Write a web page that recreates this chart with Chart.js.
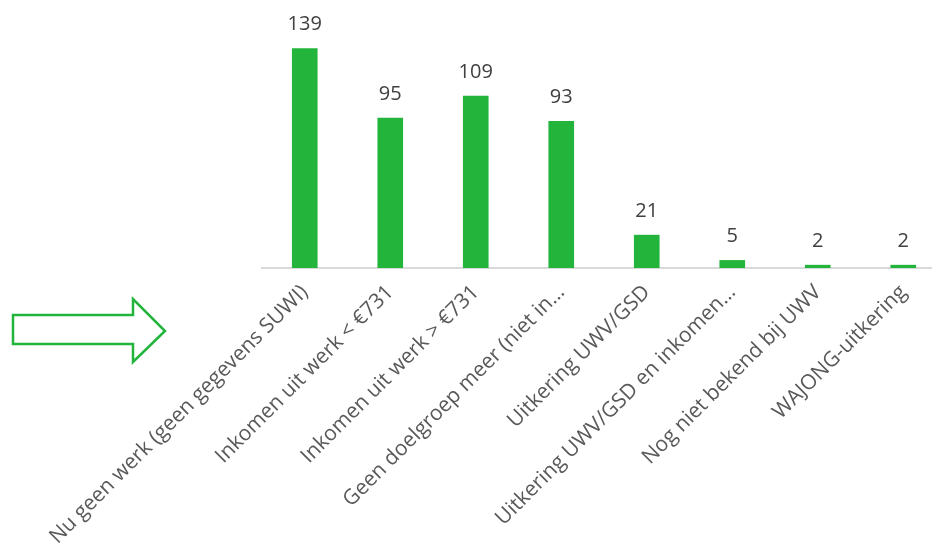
<!DOCTYPE html>
<html>
<head>
<meta charset="utf-8">
<script src="https://cdn.jsdelivr.net/npm/chart.js@4.4.1/dist/chart.umd.min.js"></script>
<style>
  html, body { margin: 0; padding: 0; background: #fff; overflow: hidden; }
  #wrap { position: absolute; left: 0; top: 0; width: 946px; height: 550px; }
</style>
</head>
<body>
<div id="wrap"><canvas id="barChart"></canvas></div>
<script>
// Categories (Excel truncated the two long ones with an ellipsis)
const categories = [
    'Nu geen werk (geen gegevens SUWI)',
    'Inkomen uit werk < €731',
    'Inkomen uit werk > €731',
    'Geen doelgroep meer (niet in…',
    'Uitkering UWV/GSD',
    'Uitkering UWV/GSD en inkomen…',
    'Nog niet bekend bij UWV',
    'WAJONG-uitkering'
];
const counts = [139, 95, 109, 93, 21, 5, 2, 2];

const green = '#22B43B';

// value labels above the bars
const valueLabels = {
    id: 'valueLabels',
    afterDatasetsDraw(chart) {
        const c = chart.ctx;
        const meta = chart.getDatasetMeta(0);
        c.save();
        c.font = '20px "Open Sans"';
        c.fillStyle = '#404040';
        c.textAlign = 'center';
        c.textBaseline = 'alphabetic';
        meta.data.forEach((bar, i) => {
            c.fillText(String(counts[i]), bar.x, bar.y - 18);
        });
        c.restore();
    }
};

// the outlined arrow on the left of the slide
const arrowShape = {
    id: 'arrowShape',
    afterDraw(chart) {
        const c = chart.ctx;
        c.save();
        c.strokeStyle = green;
        c.lineWidth = 2.5;
        c.lineJoin = 'miter';
        c.beginPath();
        c.moveTo(13, 315);
        c.lineTo(133, 315);
        c.lineTo(133, 299);
        c.lineTo(165, 331);
        c.lineTo(133, 362);
        c.lineTo(133, 344);
        c.lineTo(13, 344);
        c.closePath();
        c.stroke();
        c.restore();
    }
};

const ctx = document.getElementById('barChart').getContext('2d');
const barChart = new Chart(ctx, {
    type: 'bar',
    data: {
        labels: categories,
        datasets: [{
            data: counts,
            backgroundColor: green,
            borderWidth: 0,
            barPercentage: 0.3,
            categoryPercentage: 1.0
        }]
    },
    options: {
        responsive: true,
        maintainAspectRatio: false,
        animation: false,
        layout: {
            padding: { left: 262, top: 15, right: 0, bottom: 0 }
        },
        plugins: {
            legend: { display: false },
            tooltip: { enabled: false }
        },
        scales: {
            y: {
                display: false,
                min: 0,
                max: 160
            },
            x: {
                grid: { display: false, drawTicks: false },
                border: { color: '#D9D9D9', width: 2 },
                ticks: {
                    autoSkip: false,
                    minRotation: 45,
                    maxRotation: 45,
                    padding: 12,
                    color: '#595959',
                    font: { family: 'Open Sans', size: 21 }
                },
                afterFit: (scale) => { scale.height = 282; }
            }
        }
    },
    plugins: [valueLabels, arrowShape]
});
</script>
</body>
</html>
